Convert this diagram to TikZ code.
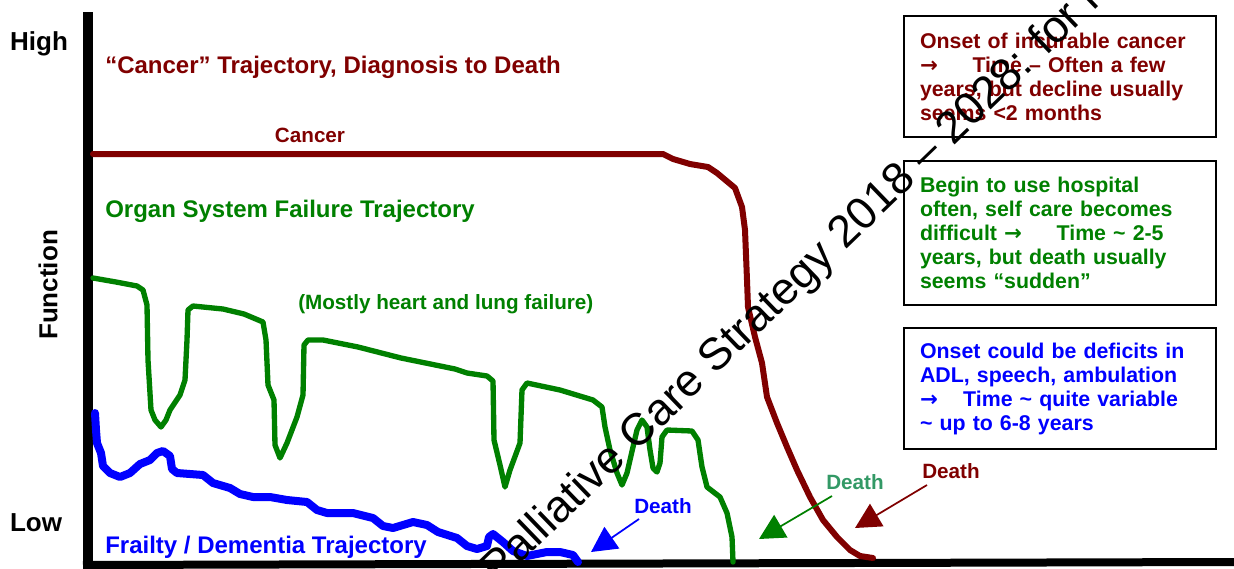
\documentclass[tikz,border=0pt]{standalone}
\usepackage{fontspec}
\setmainfont{Liberation Sans}
\newfontfamily\dvfont{DejaVu Sans}
\newcommand{\rarr}{{\dvfont\bfseries →}}
\usetikzlibrary{arrows.meta}
\definecolor{cred}{RGB}{128,0,0}
\definecolor{cgreen}{RGB}{0,128,0}
\definecolor{cblue}{RGB}{0,0,255}
\definecolor{dgreen}{RGB}{51,153,102}
\begin{document}
\begin{tikzpicture}[x=0.75pt,y=-0.75pt,
  axislbl/.style={inner sep=0pt, font=\bfseries\fontsize{19.5}{22}\selectfont},
  titlelbl/.style={inner sep=0pt, anchor=west, font=\bfseries\fontsize{18}{21}\selectfont},
  smalllbl/.style={inner sep=0pt, font=\bfseries\fontsize{15.5}{18}\selectfont},
  infobox/.style={draw=black, line width=1.5pt, inner xsep=12pt, inner ysep=0pt,
    text width=210pt, minimum height=#1, align=left, anchor=north west,
    font=\bfseries\fontsize{16}{18}\selectfont},
  traj/.style={line join=round, line cap=round},
  deatharrow/.style={-{Triangle[length=19pt,width=19.5pt]}, line width=1.3pt}
]
\clip (0,0) rectangle (1234,568);
\fill[white] (0,0) rectangle (1234,568);

% axes
\coordinate (ytop) at (88,12);
\coordinate (orig) at (88,568);
\coordinate (xend) at (1234,562);
\draw[line width=7.5pt] (ytop) -- (orig);
\draw[line width=6pt] (83,565) -- (xend);

% axis labels
\node[axislbl] (high) at (39,44) {High};
\node[axislbl] (low) at (36,523) {Low};
\node[axislbl, rotate=90] (func) at (48,285) {Function};

% titles
\node[titlelbl, text=cred] (ctitle) at (105,67) {“Cancer” Trajectory, Diagnosis to Death};
\node[smalllbl, text=cred] (clbl) at (310,135) {Cancer};
\node[titlelbl, text=cgreen] (otitle) at (105,211) {Organ System Failure Trajectory};
\node[smalllbl, text=cgreen, anchor=west] (olbl) at (298,304) {(Mostly heart and lung failure)};
\node[titlelbl, text=cblue] (ftitle) at (105,547) {Frailty / Dementia Trajectory};

% cancer trajectory
\draw[traj, cred, line width=4.5pt] (93,154) -- (663,154) -- (673,159) -- (690,164) -- (708,167) -- (717,173) -- (735,188) -- (742,207) -- (745,230) -- (747,280) -- (748,307) -- (755,337) -- (762,363) -- (767,397) -- (777,423) -- (787,447) -- (797,470) -- (810,497) -- (823,520) -- (837,537) -- (850,550) -- (860,556) -- (873,558);

% organ failure trajectory
\draw[traj, cgreen, line width=4pt] (93,278) -- (116,282) -- (137,286) -- (143,290) -- (147,305) -- (148,360) -- (151,410) -- (155,420) -- (161,427) -- (166,420) -- (170,410) -- (180,395) -- (185,380) -- (187,340) -- (188,310) -- (193,306) -- (223,309) -- (244,314) -- (263,322) -- (266,340) -- (268,385) -- (274,400) -- (275,445) -- (280,458) -- (287,443) -- (297,417) -- (303,395) -- (304,345) -- (308,340) -- (323,340) -- (358,347) -- (401,358) -- (455,369) -- (467,373) -- (487,376) -- (493,381) -- (494,440) -- (500,465) -- (505,487) -- (510,470) -- (520,443) -- (522,390) -- (527,383) -- (560,390) -- (593,400) -- (602,407) -- (605,427) -- (610,450) -- (617,473) -- (622,485) -- (627,473) -- (633,447) -- (637,430) -- (642,420) -- (647,427) -- (650,450) -- (653,468) -- (657,472) -- (660,463) -- (662,437) -- (667,430) -- (692,431) -- (698,440) -- (702,467) -- (707,487) -- (720,497) -- (727,513) -- (732,537) -- (733,562);

% frailty trajectory
\draw[traj, cblue, line width=6pt] (95,413) -- (96,430) -- (97,443) -- (101,453) -- (103,466) -- (110,473) -- (120,477) -- (130,473) -- (140,464) -- (150,460) -- (157,453) -- (163,451) -- (170,456) -- (172,469) -- (177,473) -- (203,475) -- (213,483) -- (230,488) -- (240,494) -- (253,497) -- (270,497) -- (287,500) -- (307,502) -- (317,510) -- (327,513) -- (353,513) -- (373,518) -- (383,526) -- (393,528) -- (413,522) -- (427,525) -- (438,532) -- (457,538) -- (467,546) -- (477,549) -- (487,546) -- (489,537) -- (493,534) -- (503,542) -- (513,551) -- (527,556) -- (547,552) -- (560,552) -- (573,555) -- (578,562);

% death labels and arrows
\node[smalllbl, text=cblue] (dblue) at (663,506) {Death};
\node[smalllbl, text=dgreen] (dgreenlbl) at (855,482) {Death};
\node[smalllbl, text=cred] (dred) at (951,471) {Death};
\coordinate (bs) at (639,519);
\coordinate (bt) at (591,552);
\coordinate (gs) at (832,496);
\coordinate (gt) at (759,539);
\coordinate (rs) at (927,485);
\coordinate (rt) at (855,528);
\draw[deatharrow, cblue] (bs) -- (bt);
\draw[deatharrow, cgreen] (gs) -- (gt);
\draw[deatharrow, cred] (rs) -- (rt);

% info boxes
\node[infobox=90.75pt, text=cred] (box1) at (903,15) {Onset of incurable cancer\\ \rarr\hspace{26pt}Time – Often a few\\ years, but decline usually\\ seems <2 months};
\node[infobox=108pt, text=cgreen] (box2) at (903,160) {Begin to use hospital\\ often, self care becomes\\ difficult \rarr\hspace{26pt}Time \textasciitilde\ 2-5\\ years, but death usually\\ seems “sudden”};
\node[infobox=90.75pt, text=cblue] (box3) at (903,327) {Onset could be deficits in\\ ADL, speech, ambulation\\ \rarr\hspace{19pt}Time \textasciitilde\ quite variable\\ \textasciitilde\ up to 6-8 years};

% watermark
\node[inner sep=0pt, anchor=base west, rotate=44, font=\fontsize{33.75}{40}\selectfont] (wm) at (498,586) {Palliative Care Strategy 2018 – 2028: for r};
\end{tikzpicture}
\end{document}
